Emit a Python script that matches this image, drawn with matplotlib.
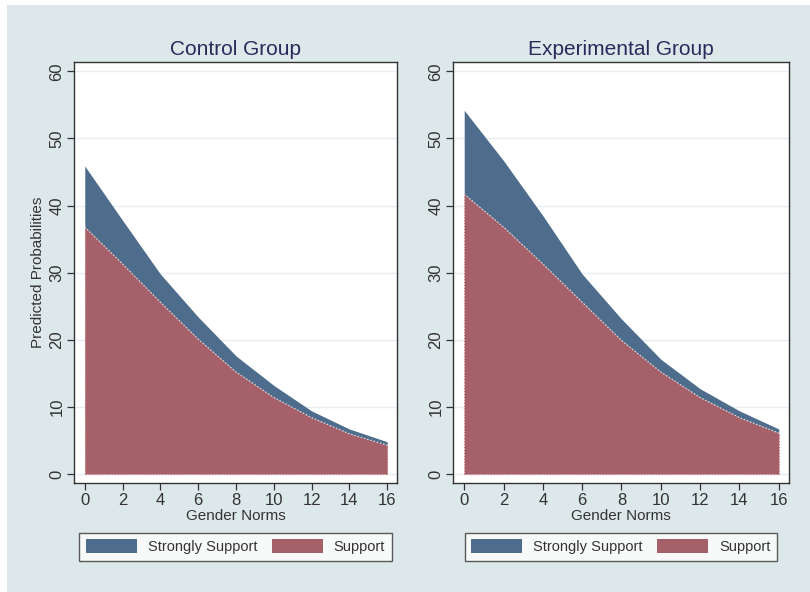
import numpy as np
import matplotlib
matplotlib.use("Agg")
import matplotlib.pyplot as plt
from matplotlib.patches import Rectangle

plt.rcParams['font.family'] = ['Liberation Sans', 'DejaVu Sans']

# gender norms score (x axis)
gender_norms = [0, 2, 4, 6, 8, 10, 12, 14, 16]

# predicted probabilities
control_support = [36.8, 31.3, 25.6, 20.1, 15.2, 11.4, 8.4, 6.0, 4.3]
control_strongly = [9.1, 6.5, 4.2, 3.3, 2.4, 1.8, 1.0, 0.7, 0.5]
exper_support = [41.7, 36.8, 31.3, 25.6, 19.9, 15.2, 11.4, 8.4, 6.1]
exper_strongly = [12.5, 9.9, 7.2, 4.2, 3.2, 1.9, 1.3, 1.0, 0.6]

panel_titles = ["Control Group", "Experimental Group"]
legend_labels = ["Strongly Support", "Support"]

blue = "#4e6d8d"
red = "#a5606a"
bg = "#dde8eb"
title_col = "#2b2a5c"
txt = "#333333"

fig = plt.figure(figsize=(8.1, 5.92), dpi=100, facecolor="white")
# stata-style light background (white strip at top/left in the original scan)
fig.patches.append(Rectangle((7 / 810, 0), 1, 1 - 5 / 592, transform=fig.transFigure,
                             facecolor=bg, edgecolor="none", zorder=-10))

ax1 = fig.add_axes([74 / 810, 1 - 483 / 592, 323 / 810, 421 / 592])
ax2 = fig.add_axes([453 / 810, 1 - 483 / 592, 336 / 810, 421 / 592])

panels = [(ax1, control_support, control_strongly),
          (ax2, exper_support, exper_strongly)]

x = np.array(gender_norms)
for i, (ax, sup, strong) in enumerate(panels):
    sup = np.array(sup)
    top = sup + np.array(strong)
    h1 = ax.fill_between(x, sup, top, color=blue, lw=0, label=legend_labels[0], zorder=2)
    h2 = ax.fill_between(x, 0, sup, color=red, lw=0, label=legend_labels[1], zorder=2)
    # dotted outline of the support area
    ax.plot(x, sup, ls=":", color="#e8dcdc", lw=0.9, zorder=3)
    ax.plot([0, 0], [0, sup[0]], ls=":", color="#c7707a", lw=0.8, zorder=3)
    ax.plot([16, 16], [0, sup[-1]], ls=":", color="#c7707a", lw=0.8, zorder=3)
    ax.plot([0, 16], [0, 0], ls=":", color="#c7707a", lw=0.8, zorder=3)

    ax.set_xlim(-0.57, 16.52)
    ax.set_ylim(-1.35, 61.4)
    ax.set_xticks(range(0, 17, 2))
    ax.set_yticks(range(0, 61, 10))
    ax.grid(axis="y", color="#e6eef0", lw=1.0, zorder=0)
    ax.set_axisbelow(True)
    ax.tick_params(axis="both", direction="out", length=5, width=0.9,
                   colors=txt, labelsize=12, pad=2)
    for lab in ax.get_yticklabels():
        lab.set_rotation(90)
        lab.set_va("center")
    for sp in ax.spines.values():
        sp.set_color(txt)
        sp.set_linewidth(1.0)

    ax.set_title(panel_titles[i], fontsize=15, color=title_col, pad=5)
    ax.set_xlabel("Gender Norms", fontsize=11, color=txt, labelpad=1)

    leg = ax.legend(handles=[h1, h2], loc="upper center", ncol=2,
                    bbox_to_anchor=(0.5, -0.118),
                    fontsize=10.5, frameon=True, fancybox=False, borderpad=0.45,
                    handlelength=3.5, handleheight=1.1, handletextpad=0.75,
                    borderaxespad=0, columnspacing=1.0)
    leg.get_frame().set_edgecolor(txt)
    leg.get_frame().set_linewidth(1.0)
    for t in leg.get_texts():
        t.set_color(txt)

ax1.set_ylabel("Predicted Probabilities", fontsize=11, color=txt, labelpad=3)

plt.savefig("out.png", dpi=100, facecolor=fig.get_facecolor())
